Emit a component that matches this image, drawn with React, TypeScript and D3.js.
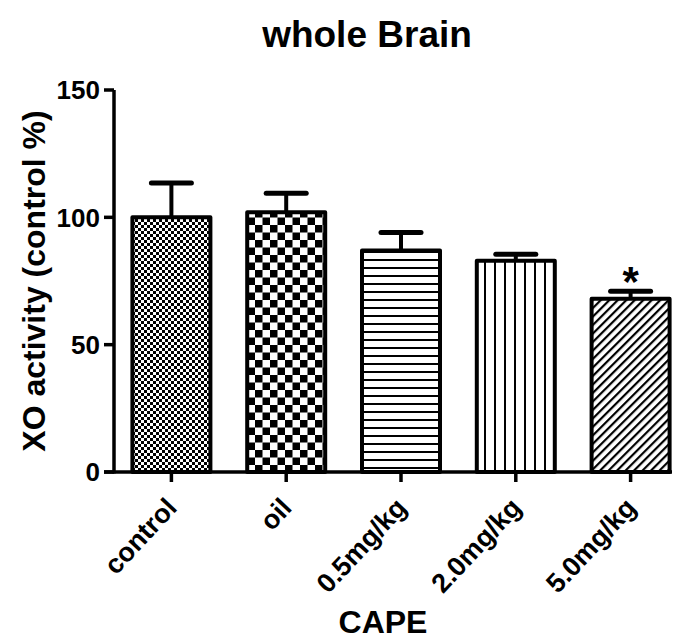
import React from "react";
import * as d3 from "d3";

const categories = ["control", "oil", "0.5mg/kg", "2.0mg/kg", "5.0mg/kg"];
const means = [100, 102, 87, 83, 68];
const errors = [13.5, 7.5, 7, 2.5, 3];
const patterns = ["fineCheck", "bigCheck", "hLines", "vLines", "diag"];
const yTicks = [0, 50, 100, 150];
const sigMarks = ["", "", "", "", "*"];

const W = 679;
const H = 643;
const FONT = "'Liberation Sans', Arial, sans-serif";

export default function App() {
  const y = d3.scaleLinear().domain([0, 150]).range([472, 90]);
  const x = d3.scaleBand().domain(categories).range([114, 688]).padding(0);
  const barW = 78;
  const cx = (c: string) => (x(c) as number) + x.bandwidth() / 2;

  return (
    <svg width={W} height={H} style={{ position: "absolute", left: 0, top: 0, background: "#fff" }}>
      <defs>
        <pattern id="fineCheck" patternUnits="userSpaceOnUse" width={6} height={6}>
          <rect width={6} height={6} fill="#fff" />
          <rect width={3} height={3} fill="#000" />
          <rect x={3} y={3} width={3} height={3} fill="#000" />
        </pattern>
        <pattern id="bigCheck" patternUnits="userSpaceOnUse" width={15} height={15}>
          <rect width={15} height={15} fill="#fff" />
          <rect width={7.5} height={7.5} fill="#000" />
          <rect x={7.5} y={7.5} width={7.5} height={7.5} fill="#000" />
        </pattern>
        <pattern id="hLines" patternUnits="userSpaceOnUse" width={8} height={8}>
          <rect width={8} height={8} fill="#fff" />
          <rect y={3} width={8} height={2} fill="#000" />
        </pattern>
        <pattern id="vLines" patternUnits="userSpaceOnUse" width={10} height={10}>
          <rect width={10} height={10} fill="#fff" />
          <rect x={4} width={2} height={10} fill="#000" />
        </pattern>
        <pattern id="diag" patternUnits="userSpaceOnUse" width={6} height={6} patternTransform="rotate(45)">
          <rect width={6} height={6} fill="#fff" />
          <rect x={0} width={2.2} height={6} fill="#000" />
        </pattern>
      </defs>

      <text x={367} y={47} textAnchor="middle" fontFamily={FONT} fontWeight="bold" fontSize={37}>
        whole Brain
      </text>

      {/* bars */}
      {categories.map((c, i) => (
        <g key={c}>
          <line
            x1={cx(c)} x2={cx(c)} y1={y(means[i])} y2={y(means[i] + errors[i])}
            stroke="#000" strokeWidth={4}
          />
          <line
            x1={cx(c) - 20} x2={cx(c) + 20} y1={y(means[i] + errors[i])} y2={y(means[i] + errors[i])}
            stroke="#000" strokeWidth={5} strokeLinecap="round"
          />
          <rect
            x={cx(c) - barW / 2} y={y(means[i])} width={barW} height={y(0) - y(means[i])}
            fill={`url(#${patterns[i]})`} stroke="#000" strokeWidth={4} strokeLinejoin="round"
          />
          {sigMarks[i] && (
            <text x={cx(c)} y={y(means[i] + errors[i]) + 5} textAnchor="middle" fontFamily={FONT}
              fontWeight="bold" fontSize={42}>
              {sigMarks[i]}
            </text>
          )}
        </g>
      ))}

      {/* y axis */}
      <line x1={114} x2={114} y1={y(150)} y2={y(0) + 1.5} stroke="#000" strokeWidth={3.5} />
      {yTicks.map((t) => (
        <g key={t}>
          <line x1={104} x2={114} y1={y(t)} y2={y(t)} stroke="#000" strokeWidth={3.5} />
          <text x={100} y={y(t)} dy="0.36em" textAnchor="end" fontFamily={FONT} fontWeight="bold" fontSize={26}>
            {t}
          </text>
        </g>
      ))}

      {/* x axis */}
      <line x1={104} x2={672} y1={y(0)} y2={y(0)} stroke="#000" strokeWidth={3.5} />
      {categories.map((c) => (
        <g key={c}>
          <line x1={cx(c)} x2={cx(c)} y1={y(0)} y2={y(0) + 10} stroke="#000" strokeWidth={3.5} />
          <text
            transform={`translate(${cx(c) + 7},${y(0) + 37}) rotate(-47)`}
            textAnchor="end" fontFamily={FONT} fontWeight="bold" fontSize={27}
          >
            {c}
          </text>
        </g>
      ))}

      <text x={383} y={633} textAnchor="middle" fontFamily={FONT} fontWeight="bold" fontSize={32}>
        CAPE
      </text>

      <text
        transform={`translate(33,${(y(0) + y(150)) / 2}) rotate(-90)`}
        dy="0.36em"
        textAnchor="middle" fontFamily={FONT} fontWeight="bold" fontSize={32}
      >
        XO activity (control %)
      </text>
    </svg>
  );
}
